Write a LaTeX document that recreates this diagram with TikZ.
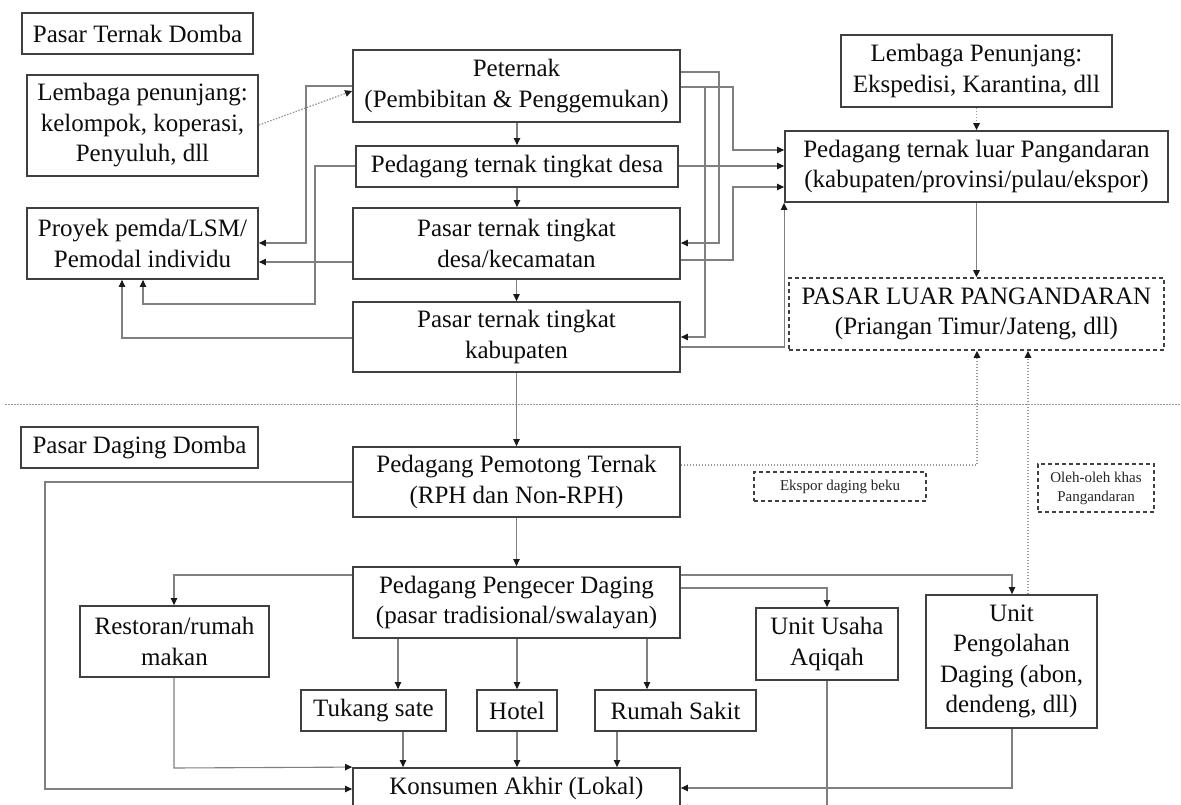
\documentclass[tikz,border=0pt]{standalone}
\usepackage{fontspec}
\setmainfont{Liberation Serif}
\usetikzlibrary{arrows.meta}
\newcommand\bigfs{\fontsize{25}{30.5}\selectfont}
\newcommand\smallfs{\fontsize{15}{19}\selectfont}
\begin{document}
\begin{tikzpicture}[x=1pt,y=-1pt,
  box/.style={draw=black!75, line width=1.8pt, fill=white, inner sep=0pt, align=center, text=black!95, font=\bigfs},
  dbox/.style={draw=black!75, line width=1.6pt, dash pattern=on 4pt off 3pt, fill=white, inner sep=0pt, align=center, text=black!95, font=\bigfs},
  sbox/.style={dbox, font=\smallfs, text=black!85},
  conn/.style={draw=black!50, line width=1.1pt, -{Triangle[length=7pt,width=6.5pt,color=black!90]}},
  dconn/.style={draw=black!40, line width=1.3pt, dash pattern=on 1.5pt off 1.5pt, -{Triangle[length=7pt,width=6.5pt,color=black!90]}},
  divider/.style={draw=black!40, line width=1pt, dash pattern=on 1.5pt off 1.5pt}]
\useasboundingbox (0,0) rectangle (1181,805);
\clip (0,0) rectangle (1181,805);

% ---------- upper part ----------
\node[box, minimum width=231pt, minimum height=41pt] (ptd) at (137.5,33.5) {Pasar Ternak Domba};
\node[box, minimum width=231pt, minimum height=101pt] (lpj) at (142.5,125.5) {Lembaga penunjang:\\kelompok, koperasi,\\Penyuluh, dll};
\node[box, minimum width=231pt, minimum height=71pt] (pry) at (142.5,243.5) {Proyek pemda/LSM/\\Pemodal individu};
\node[box, minimum width=327pt, minimum height=72pt] (pet) at (516.5,86) {Peternak\\(Pembibitan \& Penggemukan)};
\node[box, minimum width=322pt, minimum height=41pt] (pdd) at (517,166.5) {Pedagang ternak tingkat desa};
\node[box, minimum width=327pt, minimum height=71pt] (pdk) at (516.5,243.5) {Pasar ternak tingkat\\desa/kecamatan};
\node[box, minimum width=327pt, minimum height=70pt] (pkb) at (516.5,337) {Pasar ternak tingkat\\kabupaten};
\node[box, minimum width=271pt, minimum height=72pt] (lpe) at (976.5,71) {Lembaga Penunjang:\\Ekspedisi, Karantina, dll};
\node[box, minimum width=383pt, minimum height=71pt] (plp) at (976.5,166.5) {Pedagang ternak luar Pangandaran\\(kabupaten/provinsi/pulau/ekspor)};
\node[dbox, minimum width=375pt, minimum height=72pt] (pll) at (976.5,314) {PASAR LUAR PANGANDARAN\\(Priangan Timur/Jateng, dll)};

% ---------- lower part ----------
\node[box, minimum width=237pt, minimum height=41pt] (pdg) at (139.5,447.5) {Pasar Daging Domba};
\node[box, minimum width=327pt, minimum height=70pt] (pmt) at (516.5,482) {Pedagang Pemotong Ternak\\(RPH dan Non-RPH)};
\node[sbox, minimum width=172pt, minimum height=29pt] (eks) at (840,486.5) {Ekspor daging beku};
\node[sbox, minimum width=116pt, minimum height=48pt] (olh) at (1096,488) {Oleh-oleh khas\\Pangandaran};
\node[box, minimum width=327pt, minimum height=71pt] (pgc) at (516.5,602.5) {Pedagang Pengecer Daging\\(pasar tradisional/swalayan)};
\node[box, minimum width=189pt, minimum height=71pt] (rst) at (174.5,641.5) {Restoran/rumah\\makan};
\node[box, minimum width=145pt, minimum height=41pt] (tks) at (373.5,710.5) {Tukang sate};
\node[box, minimum width=80pt, minimum height=41pt] (htl) at (517,710.5) {Hotel};
\node[box, minimum width=161pt, minimum height=41pt] (rms) at (675.5,710.5) {Rumah Sakit};
\node[box, minimum width=142pt, minimum height=72pt] (aqq) at (827,644) {Unit Usaha\\Aqiqah};
\node[box, minimum width=171pt, minimum height=133pt] (upd) at (1011.5,661.5) {Unit\\Pengolahan\\Daging (abon,\\dendeng, dll)};
\node[box, minimum width=327pt, minimum height=41pt] (kns) at (516.5,788.5) {Konsumen Akhir (Lokal)};

\draw[divider] (5,404) -- (1181,404);

% ---------- connectors, upper ----------
\draw[conn] (pdd.north |- pet.south) -- (pdd.north);
\draw[conn] (pdd.south) -- (pdd.south |- pdk.north);
\draw[conn] (pdk.south) -- (pkb.north);
\draw[conn] (pkb.south) -- (pmt.north);
\draw[dconn] (lpj.east |- 0,125) -- (pet.west |- 0,91);
\draw[conn] (pet.west |- 0,86) -- (306,86) -- (306,243) -- (pry.east |- 0,243);
\draw[conn] (pdk.west |- 0,262) -- (pry.east |- 0,262);
\draw[conn] (pdd.west |- 0,166) -- (315,166) -- (315,304) -- (143,304) -- (pry.south -| 143,0);
\draw[conn] (pkb.west |- 0,338) -- (122,338) -- (pry.south -| 122,0);
\draw[conn] (pet.east |- 0,72) -- (719,72) -- (719,243) -- (pdk.east |- 0,243);
\draw[conn] (pet.east |- 0,87) -- (733,87) -- (733,150) -- (plp.west |- 0,150);
\coordinate (j1) at (705,87);
\draw[conn] (j1) -- (705,337) -- (pkb.east |- 0,337);
\draw[conn] (pdd.east |- 0,166) -- (plp.west |- 0,166);
\draw[conn] (pdk.east |- 0,260) -- (733,260) -- (733,187) -- (plp.west |- 0,187);
\draw[conn] (pkb.east |- 0,347) -- (plp.south west |- 0,347) -- (plp.south west);
\draw[dconn] (lpe.south) -- (plp.north);
\draw[conn] (plp.south) -- (pll.north);

% ---------- connectors, lower ----------
\draw[dconn] (pmt.east |- 0,465) -- (977,465) -- (pll.south -| 977,0);
\draw[dconn] (upd.north -| 1028,0) -- (pll.south -| 1028,0);
\draw[conn] (pmt.south) -- (pgc.north);
\draw[conn] (pmt.west |- 0,482) -- (45,482) -- (45,789) -- (kns.west |- 0,789);
\draw[conn] (pgc.west |- 0,575) -- (174,575) -- (rst.north -| 174,0);
\draw[conn] (rst.south -| 174,0) -- (174,768) -- (kns.north west);
\draw[conn] (pgc.south -| 398,0) -- (tks.north -| 398,0);
\draw[conn] (tks.south -| 403,0) -- (kns.north -| 403,0);
\draw[conn] (pgc.south -| htl.north) -- (htl.north);
\draw[conn] (htl.south) -- (kns.north -| htl.south);
\draw[conn] (pgc.south -| 647,0) -- (rms.north -| 647,0);
\draw[conn] (rms.south -| 617,0) -- (kns.north -| 617,0);
\draw[conn] (pgc.east |- 0,588) -- (827,588) -- (aqq.north);
\draw[conn] (pgc.east |- 0,575) -- (1012,575) -- (upd.north -| 1012,0);
\draw[conn] (upd.south -| 1012,0) -- (1012,788) -- (kns.east |- 0,788);
\draw[conn] (aqq.south) -- (827,808) -- (kns.east |- 0,808);
\end{tikzpicture}
\end{document}
